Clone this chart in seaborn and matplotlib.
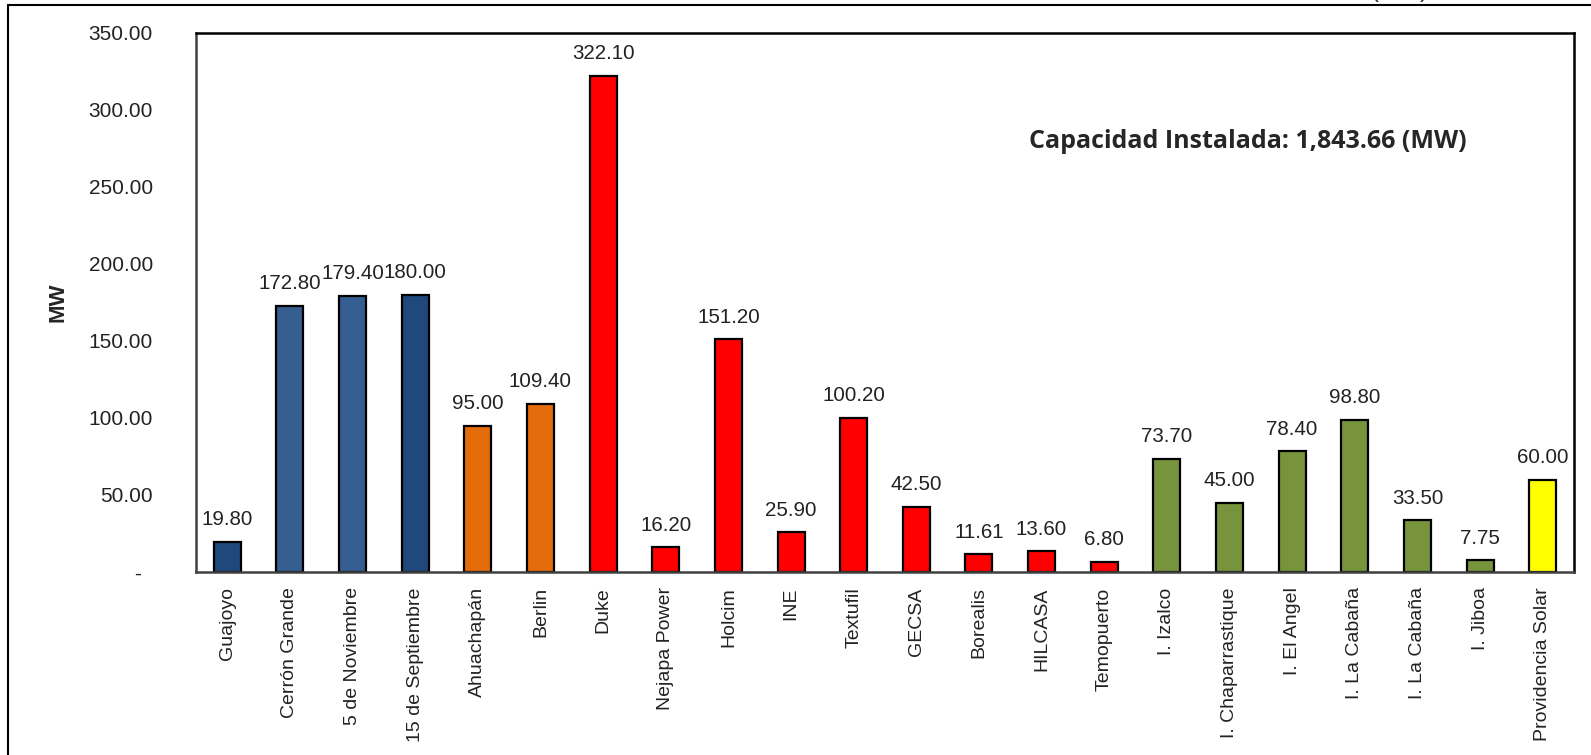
import pandas as pd
import matplotlib.pyplot as plt
import seaborn as sns
from matplotlib.lines import Line2D

# Plant names and installed capacity (MW)
plants = ["Guajoyo", "Cerrón Grande", "5 de Noviembre", "15 de Septiembre",
          "Ahuachapán", "Berlin", "Duke", "Nejapa Power", "Holcim", "INE",
          "Textufil", "GECSA", "Borealis", "HILCASA", "Temopuerto",
          "I. Izalco", "I. Chaparrastique", "I. El Angel", "I. La Cabaña",
          "I. La Cabaña", "I. Jiboa", "Providencia Solar"]
capacity = [19.80, 172.80, 179.40, 180.00, 95.00, 109.40, 322.10, 16.20,
            151.20, 25.90, 100.20, 42.50, 11.61, 13.60, 6.80, 73.70, 45.00,
            78.40, 98.80, 33.50, 7.75, 60.00]
bar_colors = ["#1F487C", "#365F91", "#365F91", "#1F487C",
              "#E46C0A", "#E46C0A",
              "#FF0000", "#FF0000", "#FF0000", "#FF0000", "#FF0000",
              "#FF0000", "#FF0000", "#FF0000", "#FF0000",
              "#77933C", "#77933C", "#77933C", "#77933C", "#77933C", "#77933C",
              "#FFFF00"]
y_ticks = [0, 50, 100, 150, 200, 250, 300, 350]
total_text = "Capacidad Instalada: 1,843.66 (MW)"

sns.set_style("white")
plt.rcParams['font.family'] = ['Liberation Sans', 'DejaVu Sans']

# duplicate names -> use unique keys for the bars
keys = ["p%d" % i for i in range(len(plants))]
df = pd.DataFrame({"key": keys, "mw": capacity})

fig = plt.figure(figsize=(15.91, 7.55), dpi=100)
ax = fig.add_axes([196/1591, 1 - 572/755, 1378/1591, 539/755])

sns.barplot(data=df, x="key", y="mw", hue="key",
            palette=dict(zip(keys, bar_colors)), legend=False, saturation=1,
            width=0.43, edgecolor="black", linewidth=1.6, ax=ax)

for cont in ax.containers:
    ax.bar_label(cont, fmt="%.2f", padding=9, fontsize=14.8, color="#222222")

ax.set_ylim(0, 350)
ax.set_xlim(-0.5, len(plants) - 0.5)
ax.set_yticks(y_ticks)
ax.set_yticklabels(["-  "] + ["%.2f" % v for v in y_ticks[1:]], fontsize=15, color="#222222")
ax.set_xticks(range(len(plants)))
ax.set_xticklabels(plants, rotation=90, fontsize=14, color="#222222")
ax.tick_params(axis="y", length=0, pad=31)
ax.tick_params(axis="x", length=0, pad=11)

ax.set_xlabel("")
ax.set_ylabel("MW", fontsize=16, fontweight="bold")
ax.yaxis.set_label_coords(-0.0922, 0.5)

for side in ["top", "right"]:
    ax.spines[side].set_color("black")
    ax.spines[side].set_linewidth(1.8)
for side in ["left", "bottom"]:
    ax.spines[side].set_color("#404040")
    ax.spines[side].set_linewidth(1.8)

fig.text(1248/1591, 1 - 142/755, total_text, ha="center", va="center",
         fontsize=18, fontweight="bold", family=["Open Sans", "DejaVu Sans"])

# clipped title remnant and outer frame of the original screenshot
fig.text(1399/1591, 1 + 3/755, "(MW)", ha="center", va="baseline", fontsize=17)
fig.add_artist(Line2D([8/1591, 1], [1 - 4.5/755, 1 - 4.5/755],
                      transform=fig.transFigure, color="black", lw=1.5))
fig.add_artist(Line2D([8/1591, 8/1591], [0, 1 - 4.5/755],
                      transform=fig.transFigure, color="black", lw=1.5))

plt.savefig("out.png", dpi=100)
